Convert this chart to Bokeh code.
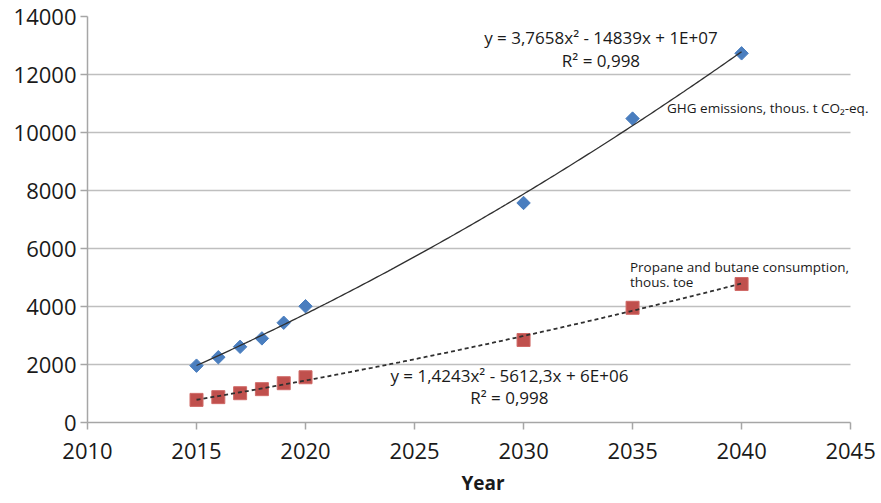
import numpy as np
from bokeh.plotting import figure
from bokeh.models import Label, FixedTicker, NumeralTickFormatter, Range1d
from bokeh.embed import file_html
from bokeh.resources import INLINE

# ---- data ----
years = [2015, 2016, 2017, 2018, 2019, 2020, 2030, 2035, 2040]
ghg_emissions = [1960, 2250, 2610, 2900, 3440, 4010, 7570, 10480, 12730]
propane_butane = [780, 875, 1010, 1150, 1355, 1560, 2845, 3955, 4775]

x_ticks = [2010, 2015, 2020, 2025, 2030, 2035, 2040, 2045]
y_ticks = [0, 2000, 4000, 6000, 8000, 10000, 12000, 14000]

eq_ghg = ["y = 3,7658x\u00b2 - 14839x + 1E+07", "R\u00b2 = 0,998"]
eq_lpg = ["y = 1,4243x\u00b2 - 5612,3x + 6E+06", "R\u00b2 = 0,998"]
lab_ghg = "GHG emissions, thous. t CO\u2082-eq."
lab_lpg = ["Propane and butane consumption,", "thous. toe"]

FONT = "Open Sans"

p = figure(width=878, height=503, output_backend="svg", toolbar_location=None,
           x_range=Range1d(2010, 2046.28), y_range=Range1d(0, 14000),
           min_border_left=87, min_border_right=0, min_border_top=16, min_border_bottom=81)
p.outline_line_color = None
p.background_fill_color = "white"

# grid
p.xgrid.grid_line_color = None
p.ygrid.grid_line_color = "#bfbfbf"
p.ygrid.grid_line_width = 1.5
p.ygrid.cross_bounds = (2010, 2045)

# axes
for ax in (p.xaxis, p.yaxis):
    ax.axis_line_color = "#a6a6a6"
    ax.axis_line_width = 1.5
    ax.major_tick_line_color = "#a6a6a6"
    ax.major_tick_line_width = 1.5
    ax.major_tick_in = 0
    ax.major_tick_out = 7
    ax.minor_tick_line_color = None
    ax.major_label_text_font = FONT
    ax.major_label_text_font_size = "22px"
    ax.major_label_text_color = "#1a1a1a"

p.xaxis.bounds = (2010, 2045)
p.xaxis.ticker = FixedTicker(ticks=x_ticks)
p.yaxis.ticker = FixedTicker(ticks=y_ticks)
p.yaxis.formatter = NumeralTickFormatter(format="0")
p.xaxis.formatter = NumeralTickFormatter(format="0")
p.xaxis.major_label_standoff = 13
p.yaxis.major_label_standoff = 4
p.xaxis.axis_label = "Year"
p.xaxis.axis_label_text_font = FONT
p.xaxis.axis_label_text_font_style = "bold"
p.xaxis.axis_label_text_font_size = "19px"
p.xaxis.axis_label_text_color = "#1a1a1a"
p.xaxis.axis_label_standoff = 8

# markers
p.scatter(years, ghg_emissions, marker="square", size=9.5, angle=np.pi / 4,
          fill_color="#4a7ebf", line_color="#4a7ebf")
p.scatter(years, propane_butane, marker="square", size=13,
          fill_color="#c0504d", line_color="#d06a67", line_width=1)

# polynomial (2nd order) trendlines fitted to the data
xa = np.array(years, dtype=float)
xs = np.linspace(min(years), max(years), 200)
c1 = np.polyfit(xa - 2015, np.array(ghg_emissions, float), 2)
c2 = np.polyfit(xa - 2015, np.array(propane_butane, float), 2)
p.line(xs, np.polyval(c1, xs - 2015), line_color="#303030", line_width=1.3)
p.line(xs, np.polyval(c2, xs - 2015), line_color="#303030", line_width=1.8, line_dash="4 3")

# text
def add(text, x, y, size, align="center"):
    p.add_layout(Label(x=x, y=y, text=text, text_font=FONT, text_font_size=size,
                       text_align=align, text_baseline="middle", text_color="#1a1a1a"))

add(eq_ghg[0], 2033.55, 13270, "17px")
add(eq_ghg[1], 2033.55, 12480, "17px")
add(eq_lpg[0], 2029.35, 1610, "17px")
add(eq_lpg[1], 2029.35, 850, "17px")
add(lab_ghg, 2036.58, 10860, "13.5px", "left")
add(lab_lpg[0], 2034.88, 5370, "13.5px", "left")
add(lab_lpg[1], 2034.88, 4830, "13.5px", "left")

open("out.html", "w").write(file_html(p, INLINE))
